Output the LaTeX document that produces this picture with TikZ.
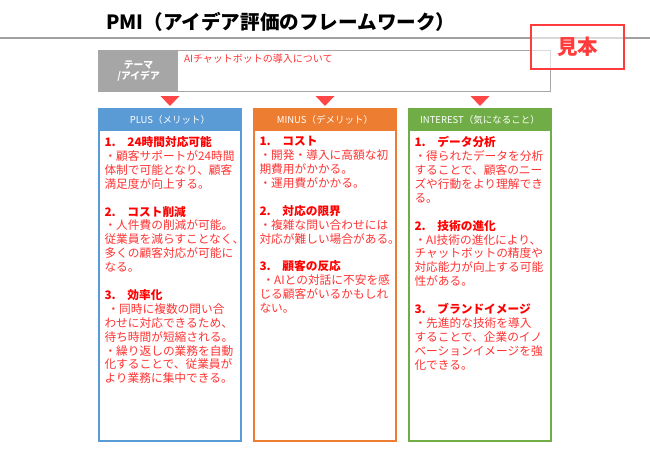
\documentclass[tikz,border=0pt]{standalone}
\usepackage{fontspec}
\setmainfont{Noto Sans CJK JP}
\usepackage{xcolor}
\usepackage{tikz}
\usetikzlibrary{positioning, calc}
\definecolor{plusBlue}{HTML}{5B9BD5}
\definecolor{minusOrange}{HTML}{ED7D31}
\definecolor{interestGreen}{HTML}{70AD47}
\definecolor{themeGray}{HTML}{A6A6A6}
\definecolor{ruleGray}{HTML}{A0A0A0}
\definecolor{headRed}{HTML}{FF0000}
\definecolor{bodyRed}{HTML}{FF3333}
\definecolor{stampRed}{HTML}{FF3B3B}
\definecolor{markerRed}{HTML}{FF4747}
\newcommand{\pmihd}[1]{{\bfseries\color{headRed}#1}}

\begin{document}
\begin{tikzpicture}[x=1pt, y=-1pt,
  every node/.style={inner sep=0pt, outer sep=0pt},
  titletext/.style={anchor=base west, text=black, font=\fontsize{19.6}{22}\selectfont\bfseries},
  stampbox/.style={rectangle, draw=stampRed, line width=2pt, fill=white, fill opacity=0.6,
              text opacity=1, text=stampRed, minimum width=92.7pt, minimum height=44pt,
              font=\fontsize{20.5}{22}\selectfont\bfseries},
  themebox/.style={rectangle, draw=themeGray, line width=1.5pt, fill=white,
              minimum width=451.2pt, minimum height=40.8pt},
  themelbl/.style={rectangle, fill=themeGray, anchor=north west, minimum width=79pt,
              minimum height=40.8pt, align=center, text=white,
              font=\fontsize{9.8}{11.7}\selectfont\bfseries},
  themetxt/.style={anchor=north west, text=bodyRed, font=\fontsize{10}{12}\selectfont},
  colbody/.style={rectangle, line width=2pt, fill=white, anchor=north,
              minimum width=141.4pt, minimum height=331.7pt},
  colhd/.style={rectangle, anchor=north, minimum width=143.4pt, minimum height=22.7pt,
              text=white, font=\fontsize{9.5}{11}\selectfont},
  coltxt/.style={anchor=north west, align=left, text=bodyRed,
              font=\fontsize{11.7}{13.9}\selectfont},
  marker/.style={fill=markerRed},
  rulestyle/.style={draw=ruleGray, line width=2pt},
]
  \useasboundingbox (0,0) rectangle (650,460);

  \coordinate (rule_l) at (0,37.7);
  \coordinate (rule_r) at (650,37.7);

  \node[titletext] (title) at (106,30) {PMI（アイデア評価のフレームワーク）};
  \draw[rulestyle] (rule_l) -- (rule_r);

  % theme / idea bar
  \node[themebox] (theme) at (324.65,71.15) {};
  \node[themelbl] (themelbl) at (theme.north west) {テーマ\\/アイデア};
  \node[themetxt] (themetxt) at ($(themelbl.north east)+(6,3.8)$)
        {AIチャットボットの導入について};

  \node[stampbox] (mihon) at (577.7,47) {見本};

  % three columns
  \node[colbody, draw=plusBlue] (plus) at (170,109.3) {};
  \node[colhd, fill=plusBlue] (plushd) at (170,108.3) {PLUS（メリット）};
  \node[colbody, draw=minusOrange] (minus) at (325,109.3) {};
  \node[colhd, fill=minusOrange] (minushd) at (325,108.3) {MINUS（デメリット）};
  \node[colbody, draw=interestGreen] (interest) at (480,109.3) {};
  \node[colhd, fill=interestGreen] (interesthd) at (480,108.3) {INTEREST（気になること）};

  \foreach \hd in {plushd, minushd, interesthd}
    \fill[marker] (\hd.north) ++(-9.5,-12.3) -- ++(19,0) -- ++(-9.5,10) -- cycle;

  \node[coltxt] (plustxt) at ($(plus.north west)+(5.2,27.2)$) {%
    \pmihd{1.　24時間対応可能}\\
    ・顧客サポートが24時間\\
    体制で可能となり、顧客\\
    満足度が向上する。\\[13.9pt]
    \pmihd{2.　コスト削減}\\
    ・人件費の削減が可能。\\
    従業員を減らすことなく、\\
    多くの顧客対応が可能に\\
    なる。\\[13.9pt]
    \pmihd{3.　効率化}\\
    \hspace{3pt}・同時に複数の問い合\\
    わせに対応できるため、\\
    待ち時間が短縮される。\\
    ・繰り返しの業務を自動\\
    化することで、従業員が\\
    より業務に集中できる。};

  \node[coltxt] (minustxt) at ($(minus.north west)+(5.2,27.2)$) {%
    \pmihd{1.　コスト}\\
    ・開発・導入に高額な初\\
    期費用がかかる。\\
    ・運用費がかかる。\\[13.9pt]
    \pmihd{2.　対応の限界}\\
    ・複雑な問い合わせには\\
    対応が難しい場合がある。\\[13.9pt]
    \pmihd{3.　顧客の反応}\\
    \hspace{3pt}・AIとの対話に不安を感\\
    じる顧客がいるかもしれ\\
    ない。};

  \node[coltxt] (interesttxt) at ($(interest.north west)+(5.2,27.2)$) {%
    \pmihd{1.　データ分析}\\
    ・得られたデータを分析\\
    することで、顧客のニー\\
    ズや行動をより理解でき\\
    る。\\[13.9pt]
    \pmihd{2.　技術の進化}\\
    ・AI技術の進化により、\\
    チャットボットの精度や\\
    対応能力が向上する可能\\
    性がある。\\[13.9pt]
    \pmihd{3.　ブランドイメージ}\\
    ・先進的な技術を導入\\
    することで、企業のイノ\\
    ベーションイメージを強\\
    化できる。};
\end{tikzpicture}
\end{document}
